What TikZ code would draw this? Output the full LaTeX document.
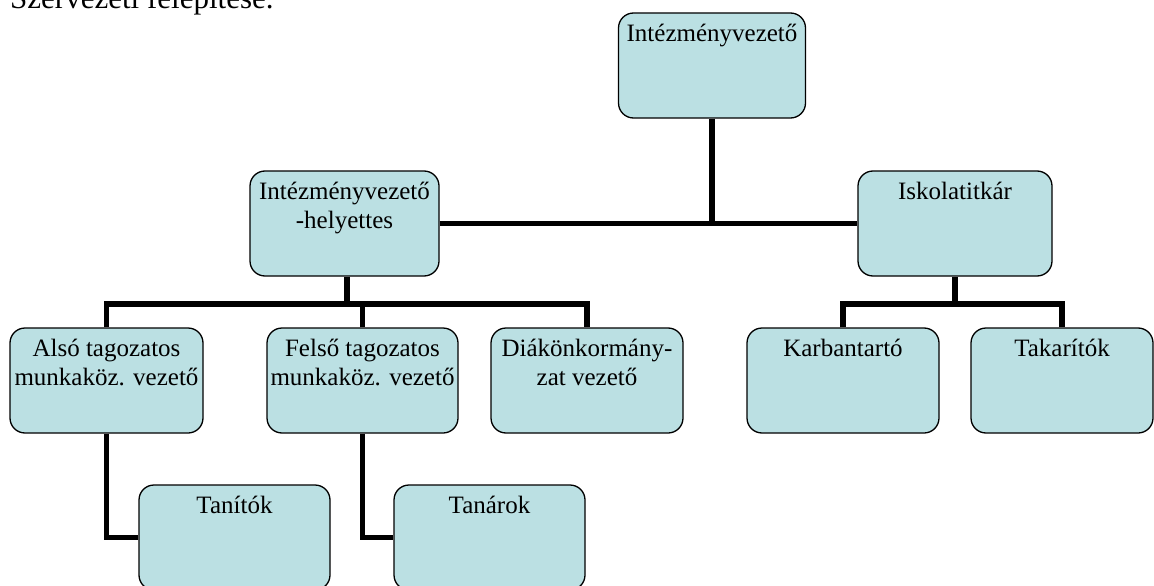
\documentclass[tikz,border=0pt]{standalone}
\usepackage{fontspec}
\setmainfont{Liberation Serif}
\usepackage{xcolor}
\definecolor{unitfill}{RGB}{187,224,227}
\tikzset{
  every picture/.style={line join=miter, line cap=butt},
  unit/.style={draw, line width=1.3pt, fill=unitfill, rounded corners=15pt, minimum width=192pt, minimum height=105pt, inner sep=0pt},
  unitname/.style={anchor=north, yshift=-12pt, align=center, inner sep=0pt, font=\fontsize{25}{28.5}\selectfont},
  link/.style={line width=5.5pt},
}

\begin{document}
\begin{tikzpicture}[x=1pt,y=-1pt]
\useasboundingbox (0,0) rectangle (1154,586);
\clip (0,0) rectangle (1154,586);
\node[anchor=base west, inner sep=0pt, font=\fontsize{31}{36}\selectfont] (title) at (10,9) {Szervezeti felépítése.};
\node[unit, minimum width=187pt, label={[unitname]north:Intézményvezető}] (head) at (712,65.5) {};
\node[unit, minimum width=189pt, label={[unitname]north:Intézményvezető\\-helyettes}] (deputy) at (344.5,223.5) {};
\node[unit, minimum width=194pt, label={[unitname]north:Iskolatitkár}] (secretary) at (955,223.5) {};
\node[unit, minimum width=193pt, label={[unitname]north:Alsó tagozatos\\munkaköz. vezető}] (lower) at (106.5,380.5) {};
\node[unit, minimum width=191pt, label={[unitname]north:Felső tagozatos\\munkaköz. vezető}] (upper) at (362.5,380.5) {};
\node[unit, label={[unitname]north:Diákönkormány-\\zat vezető}] (student) at (587,380.5) {};
\node[unit, label={[unitname]north:Karbantartó}] (caretaker) at (843,380.5) {};
\node[unit, minimum width=182pt, label={[unitname]north:Takarítók}] (cleaners) at (1062,380.5) {};
\node[unit, minimum width=191pt, label={[unitname]north:Tanítók}] (primary) at (234.5,537.5) {};
\node[unit, minimum width=191pt, label={[unitname]north:Tanárok}] (teachers) at (489.5,537.5) {};
\coordinate (lowbus) at (347,304);
\coordinate (rightbus) at (secretary.south |- lowbus);
\draw[link] (deputy.east) -- (secretary.west);
\draw[link] (head.south) -- (head.south |- deputy.east);
\draw[link] (deputy.south -| lowbus) -- (lowbus);
\draw[link] (lower.north) |- (lowbus) -| (student.north);
\draw[link] (upper.north) -- (upper.north |- lowbus);
\draw[link] (secretary.south) -- (rightbus);
\draw[link] (caretaker.north) |- (rightbus) -| (cleaners.north);
\draw[link] (lower.south) |- (primary.west);
\draw[link] (upper.south) |- (teachers.west);
\end{tikzpicture}
\end{document}
